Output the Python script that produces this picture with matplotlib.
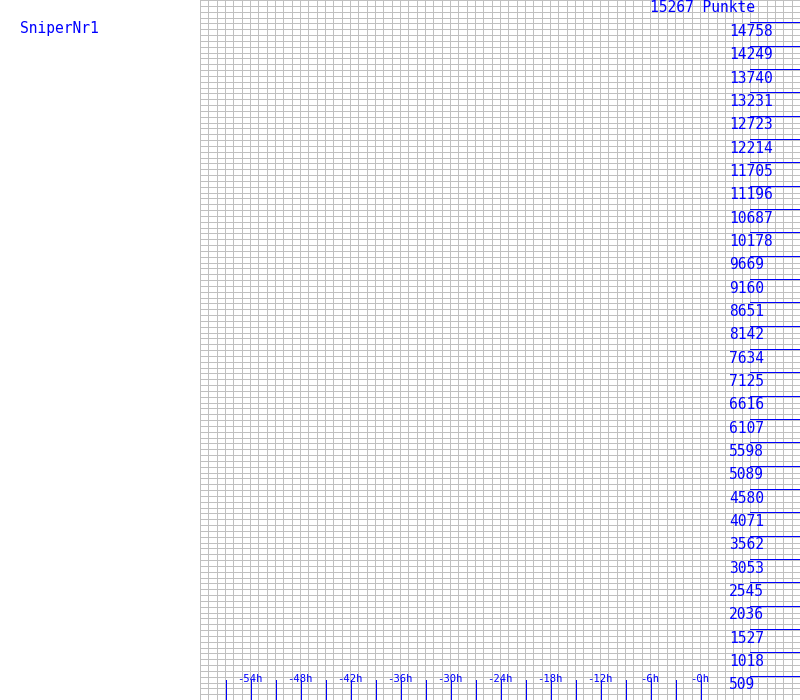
import numpy as np
import matplotlib
matplotlib.use("Agg")
import matplotlib.pyplot as plt

# chart data
player = "SniperNr1"
max_points = 15267
point_steps = [509, 1018, 1527, 2036, 2545, 3053, 3562, 4071, 4580, 5089,
               5598, 6107, 6616, 7125, 7634, 8142, 8651, 9160, 9669, 10178,
               10687, 11196, 11705, 12214, 12723, 13231, 13740, 14249, 14758]
hour_ticks = [-57, -54, -51, -48, -45, -42, -39, -36, -33, -30, -27, -24,
              -21, -18, -15, -12, -9, -6, -3, 0]
hour_labels = [-54, -48, -42, -36, -30, -24, -18, -12, -6, 0]

blue = "#0000ff"
grey = "#c0c0c0"
mono = "DejaVu Sans Mono"

fig = plt.figure(figsize=(8, 7), dpi=100)
ax = fig.add_axes([0.25, 0, 0.75, 1])
ax.set_xlim(-60, 12)
ax.set_ylim(0, max_points)
ax.set_axisbelow(True)

# fine grid: one column per hour, 120 rows
ax.set_xticks(np.arange(-60, 13, 1))
ax.set_yticks(np.linspace(0, max_points, 121))
ax.grid(True, color=grey, linewidth=0.72, antialiased=False)
ax.tick_params(length=0, labelbottom=False, labelleft=False)
for s in ax.spines.values():
    s.set_visible(False)

# point scale on the right (offset a pixel so it sits beside the grid row)
px = max_points / 700
ax.hlines([v + px for v in point_steps], 6, 12, color=blue, linewidth=0.72,
          antialiased=False, zorder=5)
for v in point_steps:
    ax.annotate(str(v), (3.45, v), xytext=(0, -12.7), textcoords="offset pixels",
                ha="left", va="baseline", color=blue, family=mono, fontsize=10.5)

# hour scale at the bottom
ax.vlines([h + 0.12 for h in hour_ticks], 0, 20 * px, color=blue, linewidth=0.72,
          antialiased=False, zorder=5)
for h in hour_labels:
    ax.annotate("%dh" % h if h else "-0h", (h, 0), xytext=(0, 18),
                textcoords="offset pixels", ha="center", va="baseline",
                color=blue, family=mono, fontsize=7.6)

ax.annotate("%d Punkte" % max_points, (-6.05, max_points), xytext=(0, -12),
            textcoords="offset pixels", ha="left", va="baseline",
            color=blue, family=mono, fontsize=10.5)

fig.text(20 / 800, 1 - 33.3 / 700, player, ha="left", va="baseline",
         color=blue, family=mono, fontsize=10.5)

fig.savefig("out.png", dpi=100)
